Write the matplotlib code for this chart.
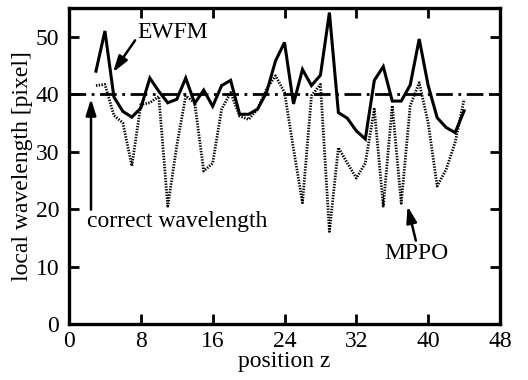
import matplotlib
matplotlib.use("Agg")
import matplotlib.pyplot as plt
import numpy as np

z = list(range(3, 45))
ewfm = [44, 51, 39.5, 37, 36, 37.6, 42.8, 40.5, 38.5, 39.1, 42.8, 38.4, 40.7, 37.9,
        41.5, 42.4, 36.5, 36.5, 37.4, 40.3, 45.8, 49, 38.3, 44.3, 41.5, 43.3, 54.2,
        36.8, 35.8, 33.6, 32.2, 42.4, 44.8, 38.8, 38.8, 41.6, 49.6, 41.5, 35.9, 34.2,
        33.3, 37.1]
mppo = [41.5, 41.7, 36.3, 35, 27.5, 38.2, 38.5, 39.6, 20.5, 31, 39.7, 38.5, 26.6, 28,
        37.4, 40.3, 36.2, 35.6, 37.4, 40.9, 43.2, 40.3, 30.5, 21.1, 39.7, 41.7, 16.1,
        30.7, 28, 25.4, 28, 37.4, 20.5, 38, 21, 38, 42, 35, 24, 26.9, 31.6, 39.1]
correct = 40
xticks = [0, 8, 16, 24, 32, 40, 48]
yticks = [0, 10, 20, 30, 40, 50]

plt.rcParams['font.family'] = ['Liberation Serif', 'DejaVu Serif']
fs = 17

fig = plt.figure(figsize=(5.28, 3.8), dpi=100)
ax = fig.add_axes([0.1307, 0.1474, 0.8163, 0.8316])

ax.plot(z, ewfm, color='black', lw=2.2, solid_joinstyle='miter')
ax.plot(z, mppo, color='black', lw=2.0, linestyle=(0, (0.5, 0.5)))
ax.axhline(correct, color='black', lw=2.0, linestyle=(0, (6, 2, 1, 2)))

ax.set_xlim(0, 48)
ax.set_ylim(0, 55)
ax.set_xticks(xticks)
ax.set_yticks(yticks)
ax.tick_params(direction='in', length=7, width=2, top=True, right=True,
               labelsize=fs, pad=5)
ax.tick_params(axis='y', pad=7)
for s in ax.spines.values():
    s.set_linewidth(2.4)

ax.set_xlabel('position z', fontsize=fs, labelpad=-1)
ax.set_ylabel('local wavelength [pixel]', fontsize=fs, labelpad=2)

arrow = dict(arrowstyle='-|>,head_length=0.7,head_width=0.22', color='black',
             lw=1.8, mutation_scale=14, shrinkA=0, shrinkB=0)
ax.annotate('EWFM', xy=(4.9, 43.8), xytext=(11.6, 50.8), fontsize=fs,
            ha='center', va='center',
            arrowprops=dict(arrow, relpos=(0.0, 0.3)))
ax.annotate('', xy=(2.45, 39.2), xytext=(2.45, 19.9), arrowprops=arrow)
ax.text(2.0, 17.8, 'correct wavelength', fontsize=fs, ha='left', va='center')
ax.annotate('MPPO', xy=(37.7, 20.5), xytext=(38.7, 12.2), fontsize=fs,
            ha='center', va='center',
            arrowprops=dict(arrow, relpos=(0.5, 1.0)))

fig.savefig('out.png', dpi=100)
